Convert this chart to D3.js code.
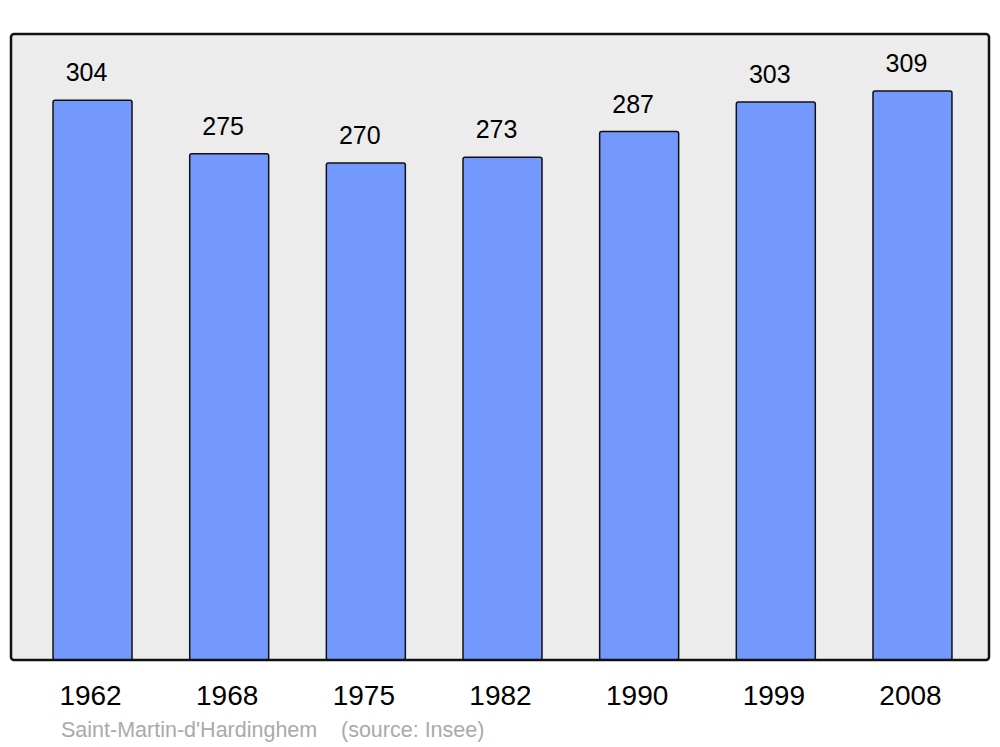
<!DOCTYPE html>
<html>
<head>
<meta charset="utf-8">
<script src="https://cdn.jsdelivr.net/npm/d3@7"></script>
<style>
html,body{margin:0;padding:0;background:#fff;}
svg{display:block;}
</style>
</head>
<body>
<script>
const years = ["1962","1968","1975","1982","1990","1999","2008"];
const population = [304, 275, 270, 273, 287, 303, 309];
const placeName = "Saint-Martin-d'Hardinghem";
const sourceNote = "(source: Insee)";

const W = 1000, H = 747;
const frame = {x0: 11, y0: 34, x1: 989, y1: 660};
const font = "Liberation Sans, Arial, sans-serif";

const svg = d3.select("body").append("svg").attr("width", W).attr("height", H);

svg.append("rect")
  .attr("x", frame.x0).attr("y", frame.y0)
  .attr("width", frame.x1 - frame.x0).attr("height", frame.y1 - frame.y0)
  .attr("rx", 3).attr("ry", 3)
  .attr("fill", "#ececec");

const x = d3.scaleBand().domain(years).range([24.2, 980.8]).paddingInner(0.422).paddingOuter(0.211);
const y = d3.scaleLinear().domain([0, 340]).range([frame.y1, frame.y0]);

const data = years.map((yr, i) => ({year: yr, value: population[i]}));

svg.selectAll("rect.bar").data(data).enter().append("rect")
  .attr("class", "bar")
  .attr("x", d => x(d.year))
  .attr("y", d => y(d.value))
  .attr("width", x.bandwidth())
  .attr("height", d => y(0) - y(d.value))
  .attr("rx", 2).attr("ry", 2)
  .attr("fill", "#7399ff").attr("stroke", "#111").attr("stroke-width", 1.5);

svg.append("rect")
  .attr("x", frame.x0).attr("y", frame.y0)
  .attr("width", frame.x1 - frame.x0).attr("height", frame.y1 - frame.y0)
  .attr("rx", 3).attr("ry", 3)
  .attr("fill", "none").attr("stroke", "#111").attr("stroke-width", 2.5);

svg.selectAll("text.val").data(data).enter().append("text")
  .attr("class", "val")
  .attr("x", d => x(d.year) + x.bandwidth() / 2 - 6)
  .attr("y", d => y(d.value) - 19)
  .attr("text-anchor", "middle")
  .attr("font-family", font)
  .attr("font-size", 25)
  .attr("fill", "#000")
  .text(d => d.value);

const xAxis = d3.axisBottom(x).tickSize(0).tickPadding(0);
const gx = svg.append("g").attr("transform", `translate(-2,${frame.y1 + 45})`).call(xAxis);
gx.select(".domain").remove();
gx.selectAll("text")
  .attr("dy", 0)
  .attr("font-family", font)
  .attr("font-size", 28)
  .attr("fill", "#000");

svg.append("text")
  .attr("x", 61).attr("y", 737)
  .attr("font-family", font)
  .attr("font-size", 21.5)
  .attr("fill", "#aaaaaa")
  .text(placeName);
svg.append("text")
  .attr("x", 341).attr("y", 737)
  .attr("font-family", font)
  .attr("font-size", 21.5)
  .attr("fill", "#aaaaaa")
  .text(sourceNote);
</script>
</body>
</html>
